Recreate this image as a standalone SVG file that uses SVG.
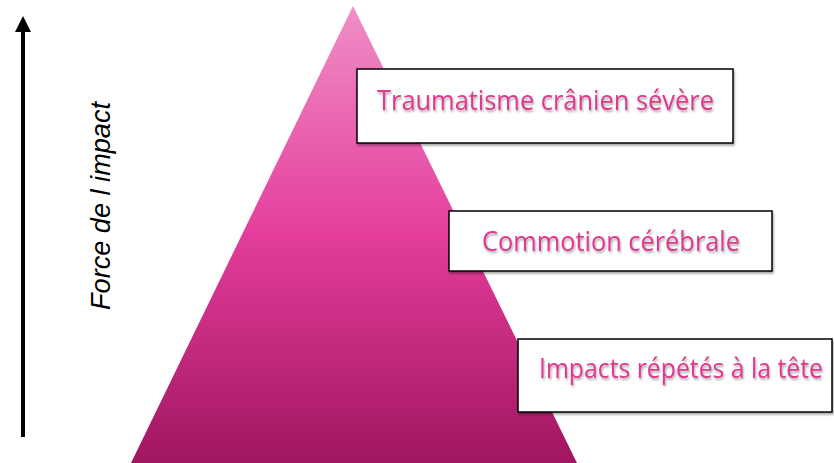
<svg xmlns="http://www.w3.org/2000/svg" width="834" height="463" viewBox="0 0 834 463">
<defs>
<linearGradient id="pyr" x1="0" y1="6" x2="0" y2="463" gradientUnits="userSpaceOnUse">
<stop offset="0" stop-color="#f08fc6"/>
<stop offset="0.5" stop-color="#e43d9b"/>
<stop offset="1" stop-color="#a0165f"/>
</linearGradient>
<filter id="sh" x="-5%" y="-20%" width="110%" height="140%">
<feGaussianBlur in="SourceAlpha" stdDeviation="1.2"/>
<feOffset dx="1" dy="1.5" result="b"/>
<feComponentTransfer><feFuncA type="linear" slope="0.35"/></feComponentTransfer>
<feMerge><feMergeNode/><feMergeNode in="SourceGraphic"/></feMerge>
</filter>
</defs>
<style>
.box{fill:#fff;stroke:#000;stroke-width:1.5}
.lbl{font-family:"Open Sans","Liberation Sans",sans-serif;font-size:27px;fill:#e0398f}
.axis{font-family:"Liberation Sans",Arial,sans-serif;font-size:27px;font-style:italic;fill:#000}
</style>
<g id="pyramid">
<polygon points="353,6 131,463 577,463" fill="url(#pyr)"/>
</g>
<g id="connectors">
<line x1="23" y1="437" x2="23" y2="30" stroke="#000" stroke-width="4"/>
<polygon points="23,16 15,32 31,32" fill="#000"/>
</g>
<g id="axis-label">
<text class="axis" transform="translate(110,310) rotate(-90)" textLength="208" lengthAdjust="spacingAndGlyphs">Force de l impact</text>
</g>
<g id="node-severe">
<rect class="box" x="357" y="69" width="376" height="74" filter="url(#sh)"/>
<text class="lbl" x="377" y="110" textLength="337" lengthAdjust="spacingAndGlyphs" filter="url(#sh)">Traumatisme crânien sévère</text>
</g>
<g id="node-commotion">
<rect class="box" x="449" y="211" width="323" height="60" filter="url(#sh)"/>
<text class="lbl" x="482" y="251" textLength="258" lengthAdjust="spacingAndGlyphs" filter="url(#sh)">Commotion cérébrale</text>
</g>
<g id="node-impacts">
<rect class="box" x="518" y="339" width="314" height="73" filter="url(#sh)"/>
<text class="lbl" x="539" y="378" textLength="284" lengthAdjust="spacingAndGlyphs" filter="url(#sh)">Impacts répétés à la tête</text>
</g>
</svg>
